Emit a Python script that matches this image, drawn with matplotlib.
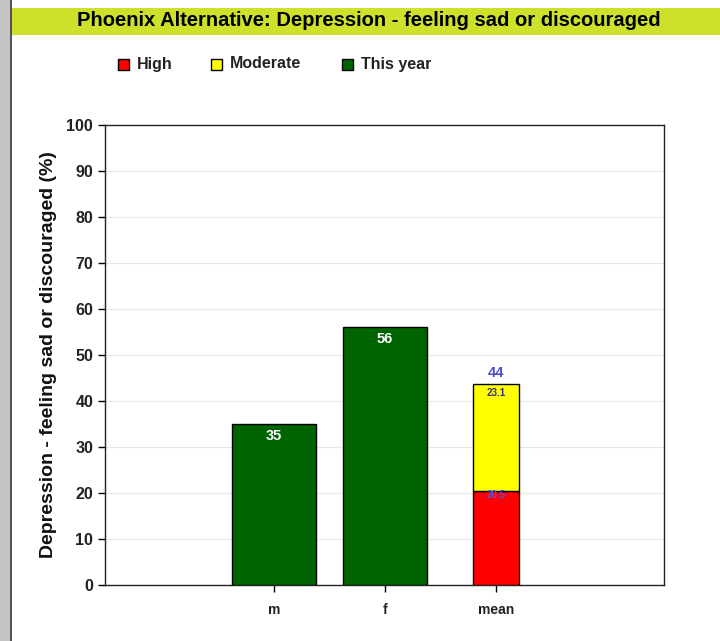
import matplotlib.pyplot as plt
from matplotlib.patches import Rectangle

# data
categories = ["m", "f", "mean"]
this_year = [35, 56]
mean_high = 20.5
mean_moderate = 23.1
mean_total = 44
y_ticks = list(range(0, 101, 10))

title = "Phoenix Alternative: Depression - feeling sad or discouraged"
ylabel = "Depression - feeling sad or discouraged (%)"
FONT = ["Liberation Sans", "DejaVu Sans"]

W, H = 720, 641
fig = plt.figure(figsize=(W / 100, H / 100), dpi=100)
fig.patch.set_facecolor("white")

# left grey strip and title band
fig.patches.append(Rectangle((0, 0), 10 / W, 1, transform=fig.transFigure,
                             facecolor="#c4c4c4", edgecolor="none"))
fig.patches.append(Rectangle((10 / W, 0), 1.5 / W, 1, transform=fig.transFigure,
                             facecolor="#555555", edgecolor="none"))
fig.patches.append(Rectangle((11.5 / W, 1 - 35 / H), 1, 27 / H, transform=fig.transFigure,
                             facecolor="#cde02a", edgecolor="none"))
fig.text(369 / W, 1 - 21 / H, title, ha="center", va="center", fontsize=14.5,
         fontweight="bold", family=FONT)

# legend
legend_items = [("High", "#ff0000", 118), ("Moderate", "#ffff00", 211), ("This year", "#006400", 342)]
for label, color, x in legend_items:
    fig.patches.append(Rectangle((x / W, 1 - 70 / H), 11 / W, 11 / H, transform=fig.transFigure,
                                 facecolor=color, edgecolor="black", linewidth=1))
    fig.text((x + 19) / W, 1 - 64 / H, label, ha="left", va="center", fontsize=11.5,
             fontweight="bold", family=FONT, color="#222222")

ax = fig.add_axes([105 / W, 1 - 585 / H, 559 / W, 460 / H])
x = [0, 1, 2]
ax.bar(x[:2], this_year, width=0.75, color="#006400", edgecolor="black", linewidth=1, zorder=3)
ax.bar(x[2], mean_high, width=0.41, color="#ff0000", edgecolor="black", linewidth=1, zorder=3)
ax.bar(x[2], mean_moderate, bottom=mean_high, width=0.41, color="#ffff00",
       edgecolor="black", linewidth=1, zorder=3)

for xi, v in zip(x[:2], this_year):
    ax.text(xi, v - 2.5, f"{v}", ha="center", va="center", color="white",
            fontsize=10.5, fontweight="bold", family=FONT, zorder=4)
ax.text(x[2], mean_high + mean_moderate + 2.5, f"{mean_total}", ha="center", va="center",
        color="#4b4bd6", fontsize=10.5, fontweight="bold", family=FONT, zorder=4)
ax.text(x[2], mean_high + mean_moderate - 1.8, f"{mean_moderate}", ha="center", va="center",
        color="#333366", fontsize=7, fontweight="bold", family=FONT, zorder=4)
ax.text(x[2], mean_high - 1.0, f"{mean_high}", ha="center", va="center",
        color="#5555dd", fontsize=7, fontweight="bold", family=FONT, zorder=4)

ax.set_xlim(-1.52, 3.51)
ax.set_ylim(0, 100)
ax.set_yticks(y_ticks)
ax.set_xticks(x)
ax.set_xticklabels(categories)
ax.yaxis.grid(True, color="#e8e8e8", linewidth=0.8, zorder=0)
ax.set_axisbelow(True)
for lbl in ax.get_xticklabels() + ax.get_yticklabels():
    lbl.set_fontweight("bold")
    lbl.set_family(FONT)
    lbl.set_color("#222222")
ax.tick_params(axis="y", labelsize=11.5, length=5, width=1)
ax.tick_params(axis="x", labelsize=10, length=5, width=1, pad=8)
for s in ax.spines.values():
    s.set_linewidth(1)
    s.set_color("#222222")
ax.set_ylabel(ylabel, fontsize=14, fontweight="bold",
              family=FONT, labelpad=7, color="#111111")

fig.savefig("out.png", dpi=100)
